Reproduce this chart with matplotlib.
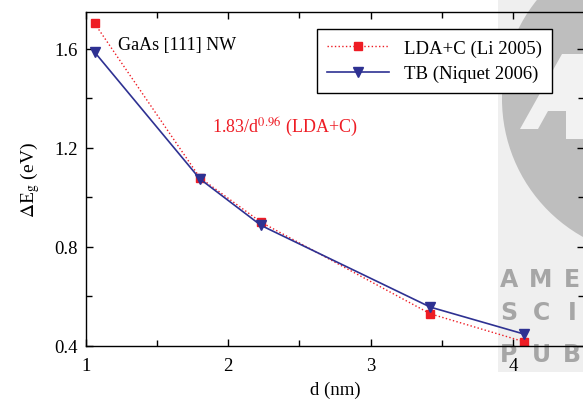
import matplotlib
matplotlib.use("Agg")
import matplotlib.pyplot as plt
from matplotlib.patches import Rectangle, Circle, Polygon
from matplotlib.ticker import MultipleLocator

# diameters (nm) and band gap shifts (eV)
d_lda = [1.06, 1.80, 2.23, 3.42, 4.08]
eg_lda = [1.703, 1.08, 0.90, 0.53, 0.417]
d_tb = [1.06, 1.80, 2.23, 3.42, 4.08]
eg_tb = [1.587, 1.075, 0.887, 0.557, 0.448]

red = "#ee1c24"
blue = "#2e3192"

plt.rcParams['font.family'] = ['Liberation Serif', 'DejaVu Serif']
plt.rcParams['mathtext.fontset'] = 'stix'

fig = plt.figure(figsize=(5.83, 4.02), dpi=100)
W, H = 583, 402


def px(x, y):
    # pixel position from top-left -> display coords
    return x, H - y


# publisher watermark behind the plot
fig.add_artist(Rectangle(px(498, 373), 85, 373, transform=None,
                         facecolor="#efefef", edgecolor="none", zorder=-3))
fig.add_artist(Circle(px(660, 100), 158, transform=None, facecolor="#bebebe",
                      edgecolor="none", zorder=-2))
a_shape = [px(520, 130), px(562, 55), px(583, 55), px(583, 140), px(566, 140),
           px(566, 112), px(548, 112), px(538, 130)]
fig.add_artist(Polygon(a_shape, closed=True, transform=None, facecolor="#f2f2f2",
                       edgecolor="none", zorder=-1))
wm_rows = [("A", "M", "E", 280), ("S", "C", "I", 313), ("P", "U", "B", 355)]
for l1, l2, l3, yy in wm_rows:
    for ch, xx in zip((l1, l2, l3), (509, 541, 572)):
        fig.text(xx / W, 1 - yy / H, ch, color="#a6a6a6", fontsize=17,
                 fontweight="bold", family="DejaVu Sans", ha="center",
                 va="center", zorder=-1)

ax = fig.add_axes([86 / W, (402 - 347) / H, 498 / W, (347 - 12.7) / H])
ax.patch.set_alpha(0)

ax.plot(d_lda, eg_lda, color=red, linestyle=":", linewidth=1.0, marker="s",
        markersize=5.5, label="LDA+C (Li 2005)")
ax.plot(d_tb, eg_tb, color=blue, linestyle="-", linewidth=1.2, marker="v",
        markersize=7, label="TB (Niquet 2006)")

ax.set_xlim(1, 4.5)
ax.set_ylim(0.4, 1.75)
ax.xaxis.set_major_locator(MultipleLocator(1))
ax.xaxis.set_minor_locator(MultipleLocator(0.5))
ax.yaxis.set_major_locator(MultipleLocator(0.4))
ax.yaxis.set_minor_locator(MultipleLocator(0.2))
ax.tick_params(which="both", direction="in", top=True, right=True, labelsize=13.5, width=1)
ax.tick_params(which="major", length=5)
ax.tick_params(which="minor", length=4)
ax.tick_params(axis="x", pad=8)
ax.tick_params(axis="y", pad=6)
for s in ax.spines.values():
    s.set_linewidth(1.0)

ax.set_xlabel("d (nm)", fontsize=13.5, labelpad=5)
ax.set_ylabel(r"$\Delta$E$_\mathrm{g}$ (eV)", fontsize=14, labelpad=9)

ax.text(1.225, 1.617, "GaAs [111] NW", fontsize=13, va="center", ha="left")
ax.text(1.885, 1.285, r"1.83/d$^{0.96}$ (LDA+C)", fontsize=13, color=red,
        va="center", ha="left")

leg = ax.legend(loc="upper right", bbox_to_anchor=(0.936, 0.948), fontsize=13.5,
                frameon=True, fancybox=False, edgecolor="black", framealpha=1,
                handlelength=3.3, borderpad=0.55, labelspacing=0.45,
                borderaxespad=0)
leg.get_frame().set_linewidth(1.0)

fig.savefig("out.png", dpi=100)
